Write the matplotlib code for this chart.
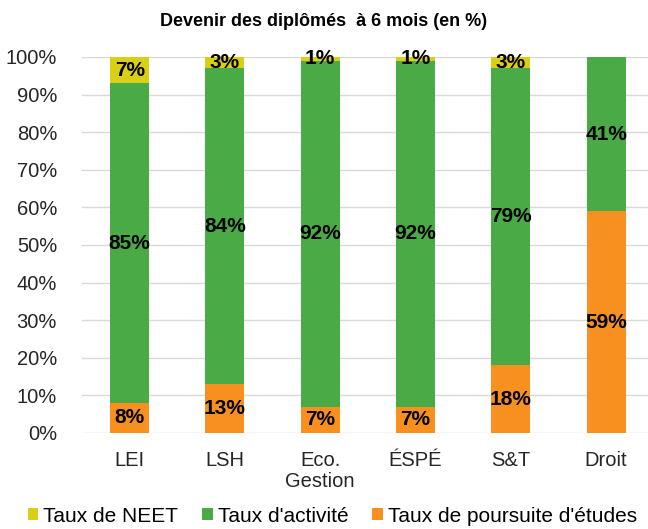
import matplotlib
matplotlib.use("Agg")
import matplotlib.pyplot as plt
from matplotlib.ticker import FuncFormatter

plt.rcParams['font.family'] = ['Liberation Sans', 'DejaVu Sans']

categories = ["LEI", "LSH", "Eco.\nGestion", "ÉSPÉ", "S&T", "Droit"]
poursuite = [8, 13, 7, 7, 18, 59]
activite = [85, 84, 92, 92, 79, 41]
neet = [7, 3, 1, 1, 3, 0]

c_neet = "#d8cf16"
c_act = "#4aab46"
c_pours = "#f7901e"

fig = plt.figure(figsize=(6.48, 5.29), dpi=100)
ax = fig.add_axes([82/648, 1-433/529, (648-82)/648, (433-57)/529])

x = list(range(len(categories)))
w = 0.41
b1 = ax.bar(x, poursuite, w, color=c_pours, label="Taux de poursuite d'études", zorder=3)
b2 = ax.bar(x, activite, w, bottom=poursuite, color=c_act, label="Taux d'activité", zorder=3)
bottom3 = [p + a for p, a in zip(poursuite, activite)]
b3 = ax.bar(x, neet, w, bottom=bottom3, color=c_neet, label="Taux de NEET", zorder=3)

for bars, vals, bots in ((b1, poursuite, [0]*6), (b2, activite, poursuite), (b3, neet, bottom3)):
    for xi, v, b in zip(x, vals, bots):
        if v > 0:
            ax.text(xi, b + v/2, f"{v}%", ha="center", va="center", fontsize=15,
                    fontweight="bold", color="black", zorder=4)

ax.set_xlim(-0.5, 5.44)
ax.set_ylim(0, 100)
ax.set_yticks(range(0, 101, 10))
ax.yaxis.set_major_formatter(FuncFormatter(lambda v, p: f"{int(v)}%"))
ax.grid(axis="y", color="#d9d9d9", linewidth=1, zorder=0)
ax.set_axisbelow(True)
for s in ax.spines.values():
    s.set_visible(False)
ax.tick_params(axis="both", length=0, labelsize=14.5, colors="#262626")
ax.tick_params(axis="x", pad=13)
ax.tick_params(axis="y", pad=18)
ax.set_xticks(x)
ax.set_xticklabels(categories, linespacing=1.15)
for lbl in ax.get_yticklabels():
    lbl.set_clip_on(False)

fig.text(0.5, 1-21/529, "Devenir des diplômés  à 6 mois (en %)", ha="center", va="center",
         fontsize=13, fontweight="bold")

handles = [b3, b2, b1]
labels = ["Taux de NEET", "Taux d'activité", "Taux de poursuite d'études"]
fig.legend(handles, labels, loc="center", bbox_to_anchor=(0.513, 1-516/529), ncol=3,
           frameon=False, fontsize=15, handlelength=0.5, handleheight=0.5,
           handletextpad=0.25, columnspacing=1.15, borderaxespad=0)

fig.savefig("out.png", dpi=100)
